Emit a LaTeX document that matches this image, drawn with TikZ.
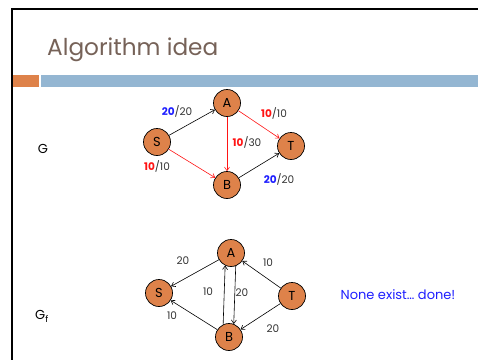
\documentclass[tikz,border=0pt]{standalone}
\usepackage{fontspec}
\setmainfont{Poppins}
\usetikzlibrary{arrows.meta}
\definecolor{nodeor}{RGB}{222,130,74}
\definecolor{barblue}{RGB}{148,182,210}
\definecolor{titlec}{RGB}{118,98,88}
\definecolor{fred}{RGB}{255,20,20}
\definecolor{fblue}{RGB}{30,30,255}
\definecolor{lblgray}{RGB}{50,50,50}
\tikzset{
  vert/.style={circle,draw=black,line width=0.7pt,fill=nodeor,minimum size=27pt,inner sep=0pt,font=\fontsize{13}{14}\selectfont},
  edge/.style={line width=0.6pt,-{Straight Barb[length=3.5pt,width=5pt]}},
  redge/.style={edge,draw=fred},
  lbl/.style={font=\fontsize{10.5}{11}\selectfont,text=lblgray,inner sep=0pt},
}
\newcommand{\rn}[1]{\textcolor{fred}{\textbf{#1}}}
\newcommand{\bn}[1]{\textcolor{fblue}{\textbf{#1}}}
\begin{document}
\begin{tikzpicture}[x=1pt,y=-1pt]
\useasboundingbox (0,0) rectangle (478,359);
% frame
\draw[line width=2pt,line cap=rect] (12,359) -- (12,9) -- (478,9);
% bar
\fill[nodeor] (13,75) rectangle (39,87);
\fill[barblue] (41,75) rectangle (478,87);
% title
\node[anchor=base west,inner sep=0pt,text=titlec,font=\fontsize{23.2}{25}\selectfont] (title) at (47,55) {Algorithm idea};
% G
\node[font=\fontsize{13}{14}\selectfont,inner sep=0pt] (glbl) at (43,149) {G};
\node[vert] (A) at (227,103) {A};
\node[vert] (S) at (157,142) {S};
\node[vert] (T) at (291,146) {T};
\node[vert] (B) at (227,185) {B};
\draw[edge] (S) -- (A);
\draw[redge] (A) -- (T);
\draw[redge] (A) -- (B);
\draw[redge] (S) -- (B);
\draw[edge] (B) -- (T);
\node[lbl] (l1) at (177,111) {\bn{20}/20};
\node[lbl] (l2) at (274,113) {\rn{10}/10};
\node[lbl] (l3) at (247,142) {\rn{10}/30};
\node[lbl] (l4) at (157,166) {\rn{10}/10};
\node[lbl] (l5) at (279,179) {\bn{20}/20};
% Gf
\node[font=\fontsize{13}{14}\selectfont,inner sep=0pt] (gflbl) at (42,316) {G\textsubscript{f}};
\node[vert] (A2) at (231,253) {A};
\node[vert] (S2) at (159,293) {S};
\node[vert] (T2) at (292,296) {T};
\node[vert] (B2) at (229,337) {B};
\draw[edge] (A2) -- (S2);
\draw[edge] (B2) -- (S2);
\draw[edge] (B2.115) -- (A2.-115);
\draw[edge] (A2.-70) -- (B2.70);
\draw[edge] (T2) -- (A2);
\draw[edge] (T2) -- (B2);
\node[lbl] (m1) at (183,261) {20};
\node[lbl] (m2) at (268,263) {10};
\node[lbl] (m3) at (208,292) {10};
\node[lbl] (m4) at (242,293) {20};
\node[lbl] (m5) at (172,316) {10};
\node[lbl] (m6) at (273,329) {20};
\node[text=fblue,font=\fontsize{13}{15}\selectfont,inner sep=0pt] (none) at (398,295) {None exist… done!};
\end{tikzpicture}
\end{document}
